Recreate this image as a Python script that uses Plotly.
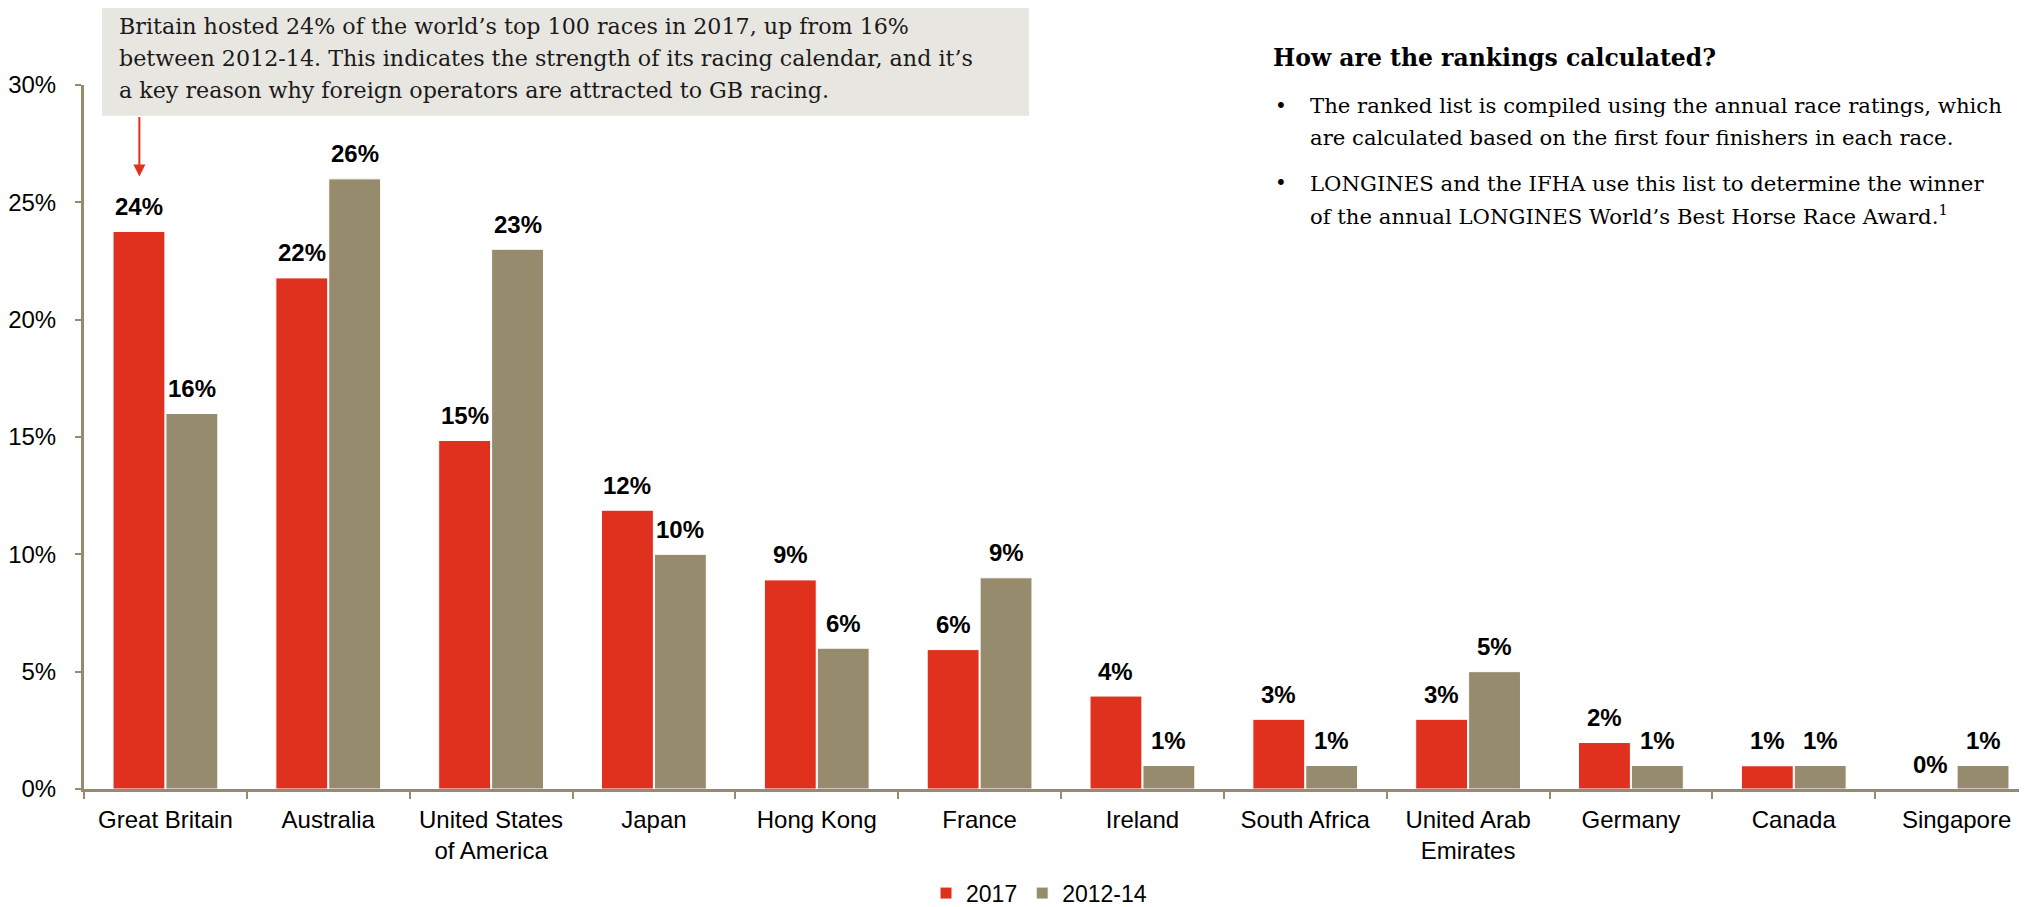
import plotly.graph_objects as go

# share of the world's top 100 races, by country
countries = ["Great Britain", "Australia", "United States<br>of America", "Japan",
             "Hong Kong", "France", "Ireland", "South Africa",
             "United Arab<br>Emirates", "Germany", "Canada", "Singapore"]
share_2017 = [23.76, 21.78, 14.85, 11.88, 8.91, 5.94, 3.96, 2.97, 2.97, 1.98, 0.99, 0.0]
share_2012_14 = [16, 26, 23, 10, 6, 9, 1, 1, 5, 1, 1, 1]
series_names = ["2017", "2012-14"]

RED = "#E0301E"
TAN = "#968B6D"
SANS = "Liberation Sans, Arial, sans-serif"
SERIF = "DejaVu Serif, Georgia, serif"

# page body has an 8px margin, so work in page pixels and shift back
OFF = 8
W, H = 2027, 907
L, T = 82 - OFF, 85 - OFF
R, B = 0, H - (795 - OFF)


def px(x):
    return (x - OFF - L) / (W - L - R)


def py(y):
    return (H - B - (y - OFF)) / (H - T - B)


fig = go.Figure()
fig.add_trace(go.Bar(x=countries, y=share_2017, name=series_names[0],
                     marker=dict(color=RED, line=dict(color="white", width=1))))
fig.add_trace(go.Bar(x=countries, y=share_2012_14, name=series_names[1],
                     marker=dict(color=TAN, line=dict(color="white", width=1))))

annotations = []
# value labels above the bars
for i, (a, b) in enumerate(zip(share_2017, share_2012_14)):
    for off, v in ((-0.1625, a), (0.1625, b)):
        annotations.append(dict(x=i + off, y=v, xref="x", yref="y",
                                text="<b>%d%%</b>" % round(v), showarrow=False,
                                yanchor="middle", yshift=25,
                                font=dict(family=SANS, size=24, color="black")))

# callout box text, one line per annotation
box_lines = [
    (26, "Britain hosted 24% of the world’s top 100 races in 2017, up from 16%"),
    (58, "between 2012-14. This indicates the strength of its racing calendar, and it’s"),
    (90, "a key reason why foreign operators are attracted to GB racing."),
]
for y, txt in box_lines:
    annotations.append(dict(x=px(115), y=py(y), xref="paper", yref="paper",
                            xanchor="left", yanchor="middle", showarrow=False, text=txt,
                            font=dict(family=SERIF, size=22.2, color="#1a1a1a")))

# arrow from the box down to the GB bar
annotations.append(dict(x=-0.16, y=26.1, xref="x", yref="y", ax=-0.16, ay=28.7,
                        axref="x", ayref="y", text="", showarrow=True,
                        arrowhead=2, arrowsize=1.2, arrowwidth=2, arrowcolor=RED))

# side panel
annotations.append(dict(x=px(1270), y=py(58), xref="paper", yref="paper",
                        xanchor="left", yanchor="middle", showarrow=False,
                        text="<b>How are the rankings calculated?</b>",
                        font=dict(family=SERIF, size=23.5, color="black")))
side_lines = [
    (106, True, "The ranked list is compiled using the annual race ratings, which"),
    (138, False, "are calculated based on the first four finishers in each race."),
    (184, True, "LONGINES and the IFHA use this list to determine the winner"),
    (216, False, "of the annual LONGINES World’s Best Horse Race Award.<sup>1</sup>"),
]
for y, bullet, txt in side_lines:
    if bullet:
        annotations.append(dict(x=px(1272), y=py(y), xref="paper", yref="paper",
                                xanchor="left", yanchor="middle", showarrow=False,
                                text="•", font=dict(family=SERIF, size=20, color="black")))
    annotations.append(dict(x=px(1307), y=py(y), xref="paper", yref="paper",
                            xanchor="left", yanchor="middle", showarrow=False,
                            text=txt, font=dict(family=SERIF, size=21.2, color="black")))

fig.update_layout(
    width=W, height=H,
    margin=dict(l=L, r=R, t=T, b=B),
    plot_bgcolor="white", paper_bgcolor="white",
    barmode="group", bargap=0.35, bargroupgap=0.02,
    font=dict(family=SANS, size=24, color="black"),
    showlegend=True,
    legend=dict(orientation="h", x=px(1038), xanchor="center", y=py(900), yanchor="middle",
                font=dict(family=SANS, size=23, color="black")),
    annotations=annotations,
    shapes=[dict(type="rect", xref="paper", yref="paper",
                 x0=px(100), x1=px(1028), y0=py(116), y1=py(3),
                 fillcolor="#E8E6E1", line=dict(width=0), layer="below")],
)
span = (W - L - R) / 163.0
fig.update_xaxes(range=[-0.5, -0.5 + span], showline=True, linecolor=TAN, linewidth=3,
                 ticks="outside", tickson="boundaries", ticklen=7, tickwidth=2,
                 tickcolor=TAN, showgrid=False, zeroline=False, ticklabelstandoff=7,
                 tickfont=dict(family=SANS, size=24, color="black"))
fig.update_yaxes(range=[0, 30], dtick=5, ticksuffix="%", showline=True, linecolor=TAN,
                 linewidth=3, ticks="outside", ticklen=6, tickwidth=2, tickcolor=TAN,
                 showgrid=False, zeroline=False, ticklabelstandoff=14,
                 tickfont=dict(family=SANS, size=24, color="black"))

fig.write_html("out.html")
